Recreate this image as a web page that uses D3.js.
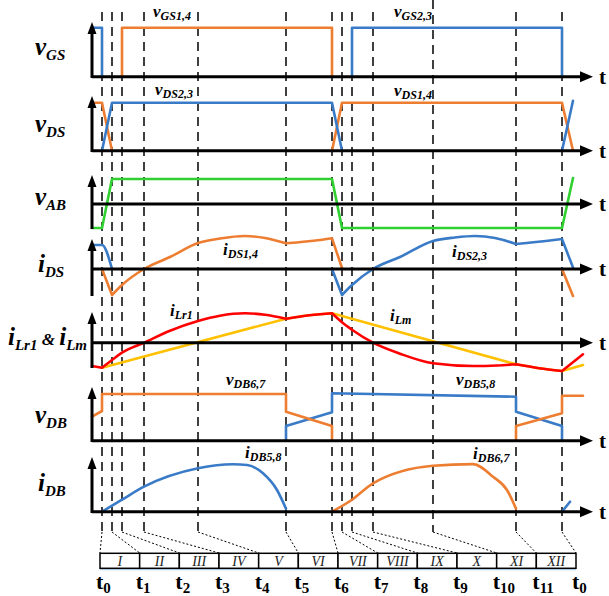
<!DOCTYPE html>
<html>
<head>
<meta charset="utf-8">
<title>Waveforms</title>
<script src="https://cdn.jsdelivr.net/npm/d3@7/dist/d3.min.js"></script>
<style>
    body { margin: 0; background: #fff; }
    .lbl { font-family: "Liberation Serif", "Times New Roman", serif; font-weight: bold; font-style: italic; fill: #000; }
    .tl { font-family: "Liberation Serif", "Times New Roman", serif; font-weight: bold; fill: #000; }
    .roman { font-family: "Liberation Serif", "Times New Roman", serif; font-style: italic; fill: #222; }
</style>
</head>
<body>
<div id="chart"></div>
<script>
// switching instants (time units, t0 = 0)
var tInstants = [0, 10, 20, 42, 96, 184, 230, 240, 250, 271, 331, 414, 460];
var tNames = ["0", "1", "2", "3", "4", "5", "6", "7", "8", "9", "10", "11", "0"];
var intervals = ["I", "II", "III", "IV", "V", "VI", "VII", "VIII", "IX", "X", "XI", "XII"];

// gate voltages
var vgs14 = [[20, 0], [20, 49], [230, 49], [230, 0]];
var vgs23 = [[-10, 49], [0, 49], [0, 0], null, [250, 0], [250, 49], [460, 49], [460, 0]];
// drain-source voltages
var vds14 = [[-10, 48], [0, 48], [10, 0], null, [230, 0], [240, 48], [460, 48], [471, 0]];
var vds23 = [[0, 0], [10, 48], [230, 48], [240, 0], null, [460, 0], [471, 50]];
// bridge voltage
var vab = [[-10, -24], [0, -24], [10, 25], [230, 25], [240, -24], [460, -24], [471, 26]];
// switch currents
var ids14 = [[0, 0], [10, -26], null, [10, -26], [20, -16], [42, 0], [68, 12], [96, 26], [118, 30.5], [143, 33], [163, 31], [184, 25.7],
             null, [184, 25.7], [218, 29], [230, 30.7], null, [230, 30.7], [240, 1], null, [460, 0], [471, -27]];
var ids23 = [[-10, 24], [0, 24], [10, 0], null, [230, 0], [240, -26], null, [240, -26], [250, -16], [271, 0], [298, 12], [331, 28], [353, 31.5],
             [373, 33], [393, 31], [414, 25], null, [414, 25], [448, 28.5], [460, 30], null, [460, 30], [471, 1.5]];
// resonant and magnetizing currents
var ilr1 = [[-10, -23.3], [0, -25], null, [0, -25], [10, -17.3], [20, -10], [42, 0], [68, 12], [96, 21.7], [118, 27], [143, 29.4], [163, 28], [184, 24],
            null, [184, 24], [200, 26.5], [218, 28.4], [230, 29.4], null, [230, 29.4], [240, 20.4], [250, 13], [271, 0], [298, -11], [331, -20.6],
            [371, -23.3], [395, -22.8], [414, -21.6], null, [414, -21.6], [437, -25.5], [460, -28.3], null, [460, -28.3], [481, -11.6]];
var ilm = [[0, -25], [184, 24], null, [184, 24], [200, 26.5], [218, 28.4], [230, 29.4], null, [230, 29.4], [414, -21.6],
           null, [414, -21.6], [437, -25.5], [460, -28.3], null, [460, -28.3], [481, -22.3]];
// diode voltages
var vdb67 = [[-10, 24], [0, 29.7], [0, 46.7], [184, 46.7], [184, 29], [230, 14.7], [230, 0], null, [414, 0], [414, 14.7], [460, 27.4], [460, 45], [481, 45]];
var vdb58 = [[184, 0], [184, 14.7], [230, 28.4], [230, 47.4], [414, 44], [414, 29], [460, 14.7], [460, 0]];
// diode currents
var idb58 = [[0, 0], [20, 12], [42, 25], [96, 43.4], [131, 47.4], [145, 46.7], [161, 38.4], [175, 21.7], [184, 3], null, [460, 0], [468, 10]];
var idb67 = [[230, 0], [250, 12], [271, 28.4], [331, 46], [371, 47.6], [391, 35], [405, 21.7], [414, 3]];

var orange = "#ed7d31", blue = "#3a7bc8", green = "#2fd02f", red = "#ff0000", yellow = "#ffc000";

var width = 609, height = 596;
var svg = d3.select("#chart").append("svg").attr("width", width).attr("height", height);

var x = d3.scaleLinear().domain([-10, 488]).range([92, 590]);
var box = d3.scaleLinear().domain([0, 12]).range([100, 576]);

// panels: axis y, arrow tip, axis bottom
var panels = [
    {axis: 76.7, top: 22, bottom: 78},
    {axis: 150.7, top: 96, bottom: 152},
    {axis: 204, top: 175, bottom: 229},
    {axis: 269, top: 239, bottom: 296},
    {axis: 342.7, top: 312, bottom: 368},
    {axis: 440.7, top: 387, bottom: 442},
    {axis: 511.7, top: 457, bottom: 513}
];
panels.forEach(function(p) {
    p.y = d3.scaleLinear().domain([0, 50]).range([p.axis, p.axis - 50]);
});

// dashed time markers
var grid = svg.append("g");
tInstants.forEach(function(t, i) {
    grid.append("line")
        .attr("x1", x(t)).attr("x2", x(t))
        .attr("y1", i == 10 ? 0 : 12).attr("y2", 532)
        .attr("stroke", "#000").attr("stroke-width", 1.5).attr("stroke-dasharray", "9,6");
    grid.append("line")
        .attr("x1", x(t)).attr("y1", 532)
        .attr("x2", box(i)).attr("y2", 553)
        .attr("stroke", "#000").attr("stroke-width", 1).attr("stroke-dasharray", "2,2");
});

function drawSeries(p, data, color, curve) {
    var line = d3.line()
        .defined(function(d) { return d !== null; })
        .x(function(d) { return x(d[0]); })
        .y(function(d) { return p.y(d[1]); })
        .curve(curve || d3.curveLinear);
    svg.append("path")
        .attr("d", line(data))
        .attr("fill", "none")
        .attr("stroke", color)
        .attr("stroke-width", 2.6)
        .attr("stroke-linejoin", "round")
        .attr("stroke-linecap", "round");
}

drawSeries(panels[0], vgs23, blue);
drawSeries(panels[0], vgs14, orange);
drawSeries(panels[1], vds14, orange);
drawSeries(panels[1], vds23, blue);
drawSeries(panels[2], vab, green);
drawSeries(panels[3], ids23, blue, d3.curveMonotoneX);
drawSeries(panels[3], ids14, orange, d3.curveMonotoneX);
drawSeries(panels[4], ilm, yellow, d3.curveMonotoneX);
drawSeries(panels[4], ilr1, red, d3.curveMonotoneX);
drawSeries(panels[5], vdb58, blue);
drawSeries(panels[5], vdb67, orange);
drawSeries(panels[6], idb58, blue, d3.curveMonotoneX);
drawSeries(panels[6], idb67, orange, d3.curveMonotoneX);

// axes with arrow heads
panels.forEach(function(p) {
    var g = svg.append("g");
    g.append("line").attr("x1", 92).attr("x2", 582).attr("y1", p.axis).attr("y2", p.axis)
        .attr("stroke", "#000").attr("stroke-width", 3);
    g.append("path").attr("d", "M580," + (p.axis - 5.5) + "L593," + p.axis + "L580," + (p.axis + 5.5) + "Z").attr("fill", "#000");
    g.append("line").attr("x1", 92).attr("x2", 92).attr("y1", p.top + 8).attr("y2", p.bottom)
        .attr("stroke", "#000").attr("stroke-width", 3);
    g.append("path").attr("d", "M87.5," + (p.top + 12) + "L92," + p.top + "L96.5," + (p.top + 12) + "Z").attr("fill", "#000");
    g.append("text").attr("class", "tl").attr("x", 599).attr("y", p.axis + 7).style("font-size", "21px").text("t");
});

function label(px, py, main, sub, size, subSize) {
    var t = svg.append("text").attr("class", "lbl").attr("x", px).attr("y", py).style("font-size", size + "px");
    t.append("tspan").text(main);
    t.append("tspan").attr("dy", size * 0.2).style("font-size", subSize + "px").text(sub);
    return t;
}

// left labels
label(35, 55, "v", "GS", 25, 15);
label(35, 132, "v", "DS", 25, 15);
label(35, 205, "v", "AB", 25, 15);
label(38, 272, "i", "DS", 25, 15);
var lm = label(8, 345, "i", "Lr1", 25, 15);
lm.append("tspan").attr("dy", -5).style("font-size", "17px").text(" & ");
lm.append("tspan").style("font-size", "25px").text("i");
lm.append("tspan").attr("dy", 5).style("font-size", "15px").text("Lm");
label(35, 423, "v", "DB", 25, 15);
label(38, 491, "i", "DB", 25, 15);

// waveform labels
label(153, 17, "v", "GS1,4", 17, 12);
label(394, 17, "v", "GS2,3", 17, 12);
label(155, 95, "v", "DS2,3", 17, 12);
label(394, 96, "v", "DS1,4", 17, 12);
label(223, 255, "i", "DS1,4", 17, 12);
label(452, 257, "i", "DS2,3", 17, 12);
label(170, 316, "i", "Lr1", 17, 12);
label(390, 321, "i", "Lm", 17, 12);
label(226, 385, "v", "DB6,7", 17, 12);
label(456, 385, "v", "DB5,8", 17, 12);
label(245, 458, "i", "DB5,8", 17, 12);
label(473, 459, "i", "DB6,7", 17, 12);

// interval boxes
var boxes = svg.append("g");
boxes.append("line").attr("x1", box(0)).attr("x2", box(12)).attr("y1", 569.5).attr("y2", 569.5)
    .attr("stroke", "#b8d3f0").attr("stroke-width", 1.5);
intervals.forEach(function(name, i) {
    boxes.append("rect")
        .attr("x", box(i)).attr("y", 553.3)
        .attr("width", box(i + 1) - box(i)).attr("height", 15)
        .attr("fill", "#fff").attr("stroke", "#000").attr("stroke-width", 1.5);
    boxes.append("text").attr("class", "roman")
        .attr("x", (box(i) + box(i + 1)) / 2).attr("y", 565.5)
        .attr("text-anchor", "middle").style("font-size", "14px").text(name);
});

tNames.forEach(function(n, i) {
    var t = svg.append("text").attr("class", "tl").attr("x", box(i) - 4).attr("y", 589).style("font-size", "22px");
    t.append("tspan").text("t");
    t.append("tspan").attr("dy", 4).style("font-size", "15px").text(n);
});
</script>
</body>
</html>
